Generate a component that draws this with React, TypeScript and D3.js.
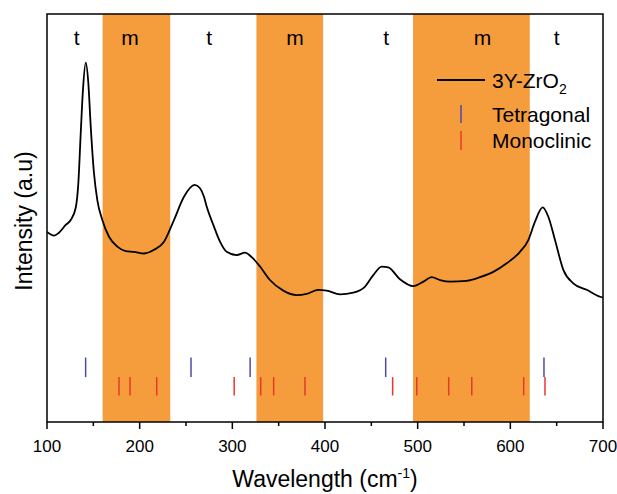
import React from "react";
import * as d3 from "d3";

const wavenumber = [100, 107.6, 112.9, 120.2, 125.6, 131.0, 133.8, 136.4, 138.8, 141.8, 144.6, 147.2, 150.7, 154.3, 159.7, 166.9, 175.9, 184.9, 193.9, 204.7, 215.5, 226.3, 237.0, 247.8, 259.4, 265.1, 269.4, 272.3, 279.5, 286.7, 293.9, 304.7, 313.7, 320.9, 329.9, 340.6, 355.0, 369.5, 380.2, 392.8, 401.8, 416.2, 430.5, 443.2, 452.1, 461.2, 468.3, 480.9, 495.3, 506.1, 515.1, 524.1, 534.9, 552.9, 567.3, 581.6, 596.1, 610.4, 619.4, 626.6, 634.9, 641.0, 648.2, 657.2, 667.9, 682.4, 696.8, 700];
const intensity = [46.6, 45.7, 46.4, 48.3, 49.5, 52.5, 58.5, 70.8, 81.4, 88.1, 83.1, 72.4, 61.0, 54.4, 49.5, 45.4, 43.0, 41.9, 41.7, 41.3, 42.2, 44.2, 49.5, 55.2, 58.1, 57.3, 55.2, 52.8, 48.3, 44.2, 41.7, 40.9, 41.5, 40.4, 38.1, 34.8, 32.2, 31.1, 31.4, 32.4, 32.2, 31.3, 31.7, 33.2, 36.0, 38.1, 37.9, 35.0, 33.3, 34.4, 35.5, 34.8, 34.4, 34.6, 35.5, 36.8, 38.9, 41.7, 44.6, 49.1, 52.6, 50.3, 44.6, 37.3, 34.0, 32.4, 30.7, 30.5];

const tetragonalLines = [141.7, 255.4, 319.2, 465.5, 636.3];
const monoclinicLines = [177.7, 189.6, 218.4, 302, 330.6, 344.6, 378.4, 473, 499, 533.5, 558.4, 614.4, 637.4];

const bandStarts = [160, 326, 495];
const bandEnds = [233, 398, 621];
const phaseLabels = ["t", "m", "t", "m", "t", "m", "t"];
const phaseLabelPos = [132, 189.5, 275, 367.5, 466, 570, 650];

const xTicks = [100, 200, 300, 400, 500, 600, 700];
const xMinorTicks = [150, 250, 350, 450, 550, 650];

const W = 617, H = 494;
const left = 47, right = 603, top = 14, bottom = 422;
const FONT = "'Liberation Sans', Arial, sans-serif";
const ORANGE = "#F59D3C";
const BLUE = "#4B4BAA";
const RED = "#E8382C";

export default function App() {
  const x = d3.scaleLinear().domain([100, 700]).range([left, right]);
  const y = d3.scaleLinear().domain([0, 100]).range([bottom, top]);
  const pts: [number, number][] = wavenumber.map((w, i) => [w, intensity[i]]);
  const line = d3
    .line<[number, number]>()
    .x((d) => x(d[0]))
    .y((d) => y(d[1]))
    .curve(d3.curveMonotoneX);

  const tetTop = y(15.8), tetBot = y(11.0);
  const monTop = y(11.0), monBot = y(6.5);

  return (
    <svg width={W} height={H} style={{ position: "absolute", left: 0, top: 0, background: "#fff" }} fontFamily={FONT}>
      <defs>
        <clipPath id="plotclip">
          <rect x={left} y={top} width={right - left} height={bottom - top} />
        </clipPath>
      </defs>
      {bandStarts.map((s, i) => (
        <rect key={"b" + i} x={x(s)} y={top} width={x(bandEnds[i]) - x(s)} height={bottom - top} fill={ORANGE} />
      ))}
      {phaseLabels.map((t, i) => (
        <text key={"p" + i} x={x(phaseLabelPos[i])} y={45} fontSize={21} textAnchor="middle" fill="#000">
          {t}
        </text>
      ))}
      <path d={line(pts) || ""} fill="none" stroke="#000" strokeWidth={1.8} strokeLinejoin="round" clipPath="url(#plotclip)" />
      {tetragonalLines.map((v, i) => (
        <line key={"t" + i} x1={x(v)} x2={x(v)} y1={tetTop} y2={tetBot} stroke={BLUE} strokeWidth={1.5} />
      ))}
      {monoclinicLines.map((v, i) => (
        <line key={"m" + i} x1={x(v)} x2={x(v)} y1={monTop} y2={monBot} stroke={RED} strokeWidth={1.5} />
      ))}
      <rect x={left} y={top} width={right - left} height={bottom - top} fill="none" stroke="#000" strokeWidth={1.5} />
      {xTicks.map((t) => (
        <g key={"xt" + t}>
          <line x1={x(t)} x2={x(t)} y1={bottom} y2={bottom + 7} stroke="#000" strokeWidth={1.5} />
          <text x={x(t)} y={452} fontSize={17} textAnchor="middle" fill="#000">
            {t}
          </text>
        </g>
      ))}
      {xMinorTicks.map((t) => (
        <line key={"mt" + t} x1={x(t)} x2={x(t)} y1={bottom} y2={bottom + 4} stroke="#000" strokeWidth={1.5} />
      ))}
      <text x={(left + right) / 2} y={487} fontSize={23} textAnchor="middle" fill="#000">
        Wavelength (cm
        <tspan fontSize={14} dy={-9}>-1</tspan>
        <tspan dy={9}>)</tspan>
      </text>
      <text transform={`translate(32, ${(top + bottom) / 2 + 3}) rotate(-90)`} fontSize={23} textAnchor="middle" fill="#000">
        Intensity (a.u)
      </text>
      <g>
        <line x1={437} x2={485} y1={80} y2={80} stroke="#000" strokeWidth={1.8} />
        <text x={492} y={88} fontSize={21} fill="#000">
          3Y-ZrO
          <tspan fontSize={14} dy={6}>2</tspan>
        </text>
        <line x1={461} x2={461} y1={105} y2={123} stroke={BLUE} strokeWidth={1.5} />
        <text x={492} y={122} fontSize={21} fill="#000">Tetragonal</text>
        <line x1={461} x2={461} y1={131} y2={150} stroke={RED} strokeWidth={1.5} />
        <text x={492} y={148} fontSize={21} fill="#000">Monoclinic</text>
      </g>
    </svg>
  );
}
